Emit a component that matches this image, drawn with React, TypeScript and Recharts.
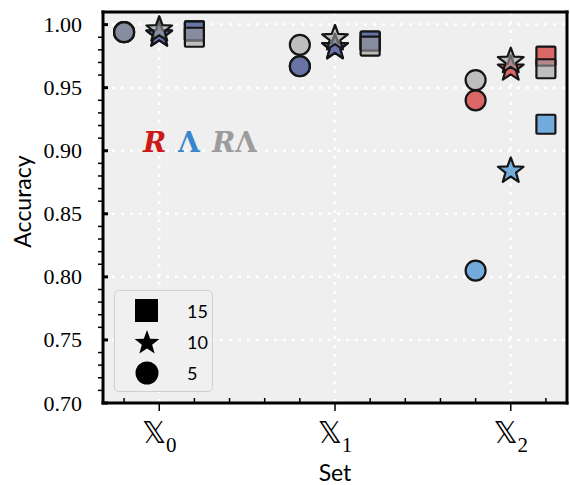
import { ScatterChart, Scatter, XAxis, YAxis, CartesianGrid, Legend, Label } from "recharts"

// sets on the x axis (subscripts of X) and their positions
const setSubs = ["0", "1", "2"]
const setPos = [0, 1, 2]
const yTicks = [0.7, 0.75, 0.8, 0.85, 0.9, 0.95, 1.0]

// accuracy, window 5 (circles)
const r5 = [0.994, 0.967, 0.94]
const l5 = [0.994, 0.967, 0.805]
const rl5 = [0.994, 0.984, 0.956]
// window 10 (stars)
const r10 = [0.992, 0.982, 0.965]
const l10 = [0.992, 0.982, 0.884]
const rl10 = [0.996, 0.989, 0.971]
// window 15 (squares)
const r15 = [0.995, 0.987, 0.975]
const l15 = [0.995, 0.987, 0.921]
const rl15 = [0.99, 0.983, 0.965]

const legendItems = [
  { label: "15", shape: "square" },
  { label: "10", shape: "star" },
  { label: "5", shape: "circle" },
]

const RED = "#cc0a0a"
const BLUE = "#207bcf"
const GRAY = "#9d9d9d"
const EDGE = "#151515"
const ALPHA = 0.6

const xMinor: number[] = []
for (let i = -1; i <= 11; i++) if (i % 5 !== 0) xMinor.push(i / 5)
const yMinor: number[] = []
for (let i = 71; i < 100; i++) if (i % 5 !== 0) yMinor.push(i / 100)
const yAll = [...yTicks, ...yMinor].sort((a, b) => a - b)
const xAll = [...setPos, ...xMinor].sort((a, b) => a - b)

const isMajor = (v: number, majors: number[]) => majors.some((m) => Math.abs(m - v) < 1e-6)

const toPoints = (vals: number[], off: number) => vals.map((v, i) => ({ x: setPos[i] + off, y: v }))

const starPoints = (cx: number, cy: number, R: number, r: number) => {
  const pts = []
  for (let i = 0; i < 10; i++) {
    const rad = i % 2 === 0 ? R : r
    const a = (Math.PI / 5) * i - Math.PI / 2
    pts.push(`${cx + rad * Math.cos(a)},${cy + rad * Math.sin(a)}`)
  }
  return pts.join(" ")
}

const CircleMark = (p: any) => (
  <circle cx={p.cx} cy={p.cy} r={10} fill={p.fill} fillOpacity={ALPHA} stroke={EDGE} strokeWidth={2.2} />
)
const SquareMark = (p: any) => (
  <rect x={p.cx - 9.5} y={p.cy - 9.5} width={19} height={19} rx={1} fill={p.fill} fillOpacity={ALPHA}
    stroke={EDGE} strokeWidth={2.2} strokeLinejoin="round" />
)
const StarMark = (p: any) => (
  <polygon points={starPoints(p.cx, p.cy, 13.5, 5.6)} fill={p.fill} fillOpacity={ALPHA}
    stroke={EDGE} strokeWidth={2.2} strokeLinejoin="round" />
)

// x ticks: majors get an outward tick and the X_i label, minors an inward tick
const SetTick = ({ x, y, payload }: any) => {
  const v = payload.value
  if (!isMajor(v, setPos)) {
    return <line x1={x} x2={x} y1={y} y2={y - 5} stroke="#000" strokeWidth={1.5} />
  }
  const i = setPos.findIndex((p) => Math.abs(p - v) < 1e-6)
  return (
    <g>
      <line x1={x} x2={x} y1={y} y2={y + 8} stroke="#000" strokeWidth={1.5} />
      <text x={x} y={y + 40} textAnchor="middle" fill="#000">
        <tspan fontFamily="DejaVu Sans" fontSize={30}>𝕏</tspan>
        <tspan fontFamily="Liberation Serif" fontSize={21} dy={9}>{setSubs[i]}</tspan>
      </text>
    </g>
  )
}

// y ticks: majors get a label and an inward tick, minors an outward tick
const AccTick = ({ x, y, payload }: any) => {
  const v = payload.value
  if (!isMajor(v, yTicks)) {
    return <line x1={x} x2={x - 5} y1={y} y2={y} stroke="#000" strokeWidth={1.5} />
  }
  return (
    <g>
      <line x1={x} x2={x + 5} y1={y} y2={y} stroke="#000" strokeWidth={3} />
      <text x={x - 21} y={y} textAnchor="end" dominantBaseline="central" fill="#000"
        fontFamily="Liberation Serif" fontSize={22}>{v.toFixed(2)}</text>
    </g>
  )
}

const renderLegend = () => (
  <div
    style={{
      width: 99,
      height: 102,
      boxSizing: "border-box",
      border: "1.5px solid #cfcfcf",
      borderRadius: 5,
      background: "rgba(240,240,240,0.85)",
      fontFamily: "Lato",
      fontSize: 18,
      paddingTop: 4,
    }}
  >
    {legendItems.map((it) => (
      <div key={it.label} style={{ display: "flex", alignItems: "center", height: 31 }}>
        <svg width={64} height={30}>
          {it.shape === "square" && <rect x={20} y={3} width={23} height={23} fill="#000" />}
          {it.shape === "star" && <polygon points={starPoints(32, 16, 13, 5.4)} fill="#000" />}
          {it.shape === "circle" && <circle cx={32} cy={15} r={11.5} fill="#000" />}
        </svg>
        <span style={{ marginLeft: 8 }}>{it.label}</span>
      </div>
    ))}
  </div>
)

const axisLine = { stroke: "#000", strokeWidth: 3, strokeLinecap: "square" as const }
const XD: [number, number] = [-0.32, 2.32]
const YD: [number, number] = [0.7, 1.01]

export default function App() {
  return (
    <div style={{ position: "absolute", left: 0, top: 0, width: 570, height: 485 }}>
      <ScatterChart width={570} height={485} margin={{ top: 12, right: 3, bottom: 0, left: 0 }}>
        <CartesianGrid xAxisId="main" yAxisId="main" fill="#efefef" stroke="#ffffff"
          strokeWidth={2.5} strokeDasharray="3 6" horizontalValues={yTicks} verticalValues={setPos} />
        <XAxis xAxisId="main" type="number" dataKey="x" domain={XD} allowDataOverflow ticks={xAll}
          interval={0} height={82} tickSize={0} tickMargin={0} tickLine={false} axisLine={axisLine}
          tick={<SetTick />}>
          <Label
            content={({ viewBox }: any) => (
              <text x={viewBox.x + viewBox.width / 2} y={viewBox.y + 78} textAnchor="middle"
                fontFamily="Lato" fontSize={23} fill="#000">Set</text>
            )}
          />
        </XAxis>
        <XAxis xAxisId="top" orientation="top" type="number" domain={XD} allowDataOverflow ticks={xMinor}
          interval={0} height={1} mirror tick={false} tickSize={5}
          tickLine={{ stroke: "#000", strokeWidth: 1.5 }} axisLine={axisLine} />
        <YAxis yAxisId="main" type="number" dataKey="y" domain={YD} allowDataOverflow ticks={yAll}
          interval={0} width={103} tickSize={0} tickMargin={0} tickLine={false} axisLine={axisLine}
          tick={<AccTick />}>
          <Label
            content={({ viewBox }: any) => {
              const cx = viewBox.x + 22
              const cy = viewBox.y + viewBox.height / 2 - 6
              return (
                <text x={cx} y={cy} transform={`rotate(-90 ${cx} ${cy})`} textAnchor="middle"
                  dominantBaseline="central" fontFamily="Lato" fontSize={23} fill="#000">Accuracy</text>
              )
            }}
          />
        </YAxis>
        <YAxis yAxisId="right" orientation="right" type="number" domain={YD} allowDataOverflow ticks={yTicks}
          interval={0} width={1} mirror tick={false} tickSize={5} tickLine={{ stroke: "#000", strokeWidth: 3 }}
          axisLine={axisLine} />
        <Legend layout="vertical" align="center" verticalAlign="middle" content={renderLegend}
          wrapperStyle={{ position: "absolute", left: 114, top: 290, width: 99, height: 102 }} />

        <Scatter xAxisId="main" yAxisId="main" data={toPoints(r5, -0.2)} fill={RED} shape={<CircleMark />} isAnimationActive={false} />
        <Scatter xAxisId="main" yAxisId="main" data={toPoints(l5, -0.2)} fill={BLUE} shape={<CircleMark />} isAnimationActive={false} />
        <Scatter xAxisId="main" yAxisId="main" data={toPoints(rl5, -0.2)} fill={GRAY} shape={<CircleMark />} isAnimationActive={false} />
        <Scatter xAxisId="main" yAxisId="main" data={toPoints(r10, 0)} fill={RED} shape={<StarMark />} isAnimationActive={false} />
        <Scatter xAxisId="main" yAxisId="main" data={toPoints(l10, 0)} fill={BLUE} shape={<StarMark />} isAnimationActive={false} />
        <Scatter xAxisId="main" yAxisId="main" data={toPoints(rl10, 0)} fill={GRAY} shape={<StarMark />} isAnimationActive={false} />
        <Scatter xAxisId="main" yAxisId="main" data={toPoints(r15, 0.2)} fill={RED} shape={<SquareMark />} isAnimationActive={false} />
        <Scatter xAxisId="main" yAxisId="main" data={toPoints(l15, 0.2)} fill={BLUE} shape={<SquareMark />} isAnimationActive={false} />
        <Scatter xAxisId="main" yAxisId="main" data={toPoints(rl15, 0.2)} fill={GRAY} shape={<SquareMark />} isAnimationActive={false} />
      </ScatterChart>
      <svg width={570} height={485} style={{ position: "absolute", left: 0, top: 0, pointerEvents: "none" }}>
        <text y={152} fontFamily="DejaVu Serif" fontSize={28} fontWeight="bold">
          <tspan x={143} fill="#cc1a1a" fontStyle="italic">R</tspan>
          <tspan x={178} fill="#3a86cc">Λ</tspan>
          <tspan x={212} fill="#9c9c9c" fontStyle="italic">R</tspan>
          <tspan fill="#9c9c9c">Λ</tspan>
        </text>
      </svg>
    </div>
  )
}
